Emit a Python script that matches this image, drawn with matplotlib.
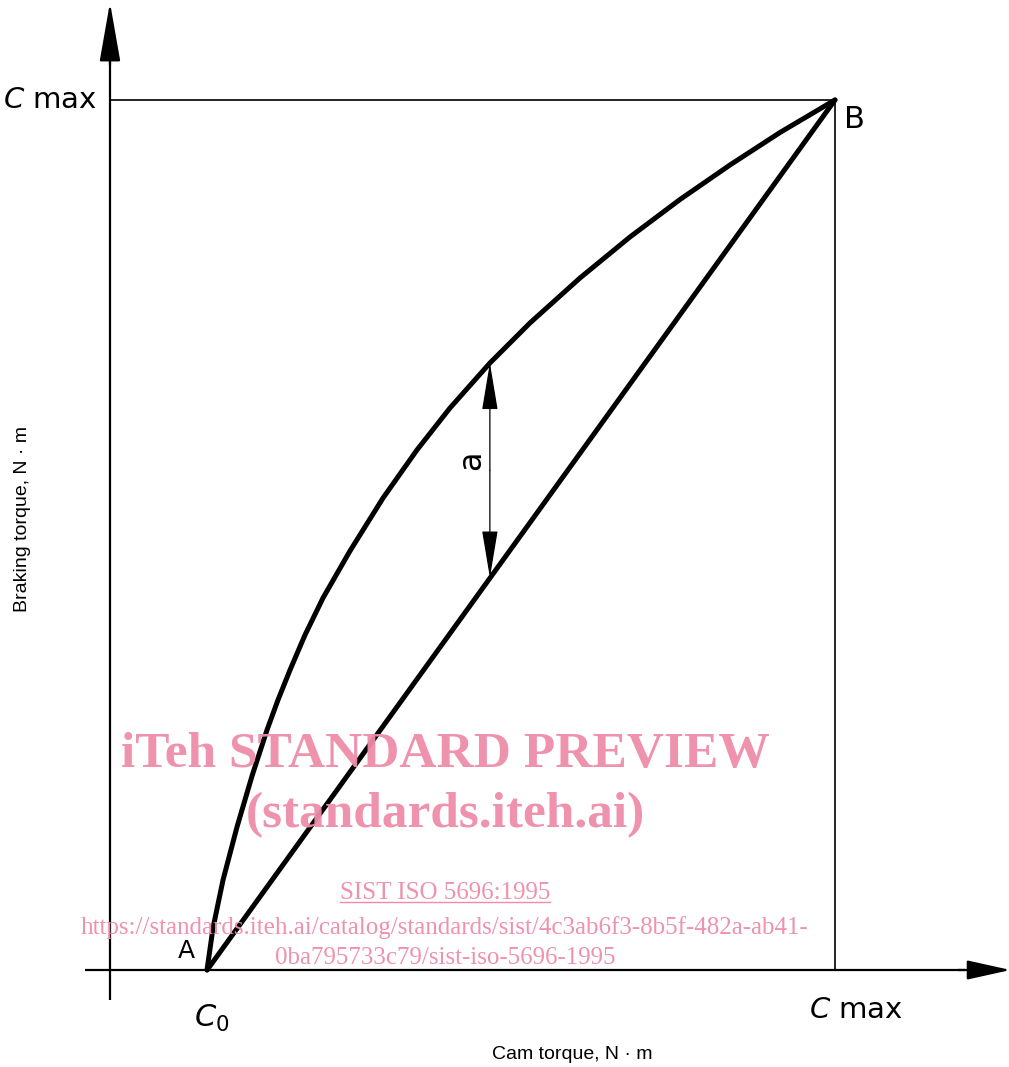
import numpy as np
import matplotlib
matplotlib.use("Agg")
import matplotlib.pyplot as plt
from matplotlib.patches import FancyArrowPatch
from matplotlib.lines import Line2D

# ── Data (torque as fraction of C max) ───────────────────────────────
C0 = 0.134
CMAX = 1.0
# upper curve A -> B (braking torque vs cam torque, rising branch)
curve_x = [0.1338, 0.1421, 0.1559, 0.1752, 0.1959, 0.2166, 0.2317, 0.2483,
           0.2690, 0.2938, 0.3310, 0.3766, 0.4234, 0.4690, 0.5241, 0.5793,
           0.6483, 0.7172, 0.7862, 0.8552, 0.9241, 1.0]
curve_y = [0.0, 0.0483, 0.1034, 0.1644, 0.2230, 0.2759, 0.3103, 0.3448,
           0.3851, 0.4276, 0.4816, 0.5425, 0.5977, 0.6460, 0.6977, 0.7437,
           0.7954, 0.8425, 0.8856, 0.9253, 0.9626, 1.0]
# straight branch A -> B
line_x = [C0, CMAX]
line_y = [0.0, CMAX]
# dimension "a"
a_x = 0.524
a_top = 0.6977
a_bot = 0.451

PINK = "#EE8CAA"

plt.rcParams.update({
    "font.family": ["DejaVu Sans"],
    "mathtext.fontset": "dejavusans",
})

fig = plt.figure(figsize=(10.09, 10.67), dpi=100)
ax = fig.add_axes([0, 0, 1, 1])
ax.set_xlim(-0.1517, 1.24)
ax.set_ylim(-0.1115, 1.1149)
ax.axis("off")

# ── Axes with arrows ─────────────────────────────────────────────────
ax.plot([-0.034, 1.18], [0, 0], color="black", lw=1.6, solid_capstyle="butt")
ax.plot([0, 0], [-0.035, 1.05], color="black", lw=1.6, solid_capstyle="butt")
ax.add_patch(FancyArrowPatch((0, 1.04), (0, 1.112),
                             arrowstyle="-|>,head_length=37,head_width=6.5",
                             mutation_scale=1, color="black", lw=1.6,
                             shrinkA=0, shrinkB=0))
ax.add_patch(FancyArrowPatch((1.17, 0), (1.242, 0),
                             arrowstyle="-|>,head_length=27,head_width=6",
                             mutation_scale=1, color="black", lw=1.6,
                             shrinkA=0, shrinkB=0))

# C max frame
ax.plot([0, CMAX, CMAX], [CMAX, CMAX, 0], color="black", lw=1.2)

# ── Curves ───────────────────────────────────────────────────────────
ax.plot(curve_x, curve_y, color="black", lw=3.6, solid_joinstyle="round",
        solid_capstyle="round")
ax.plot(line_x, line_y, color="black", lw=3.6, solid_capstyle="round")

# dimension arrow a
for y0, y1 in [((a_top + a_bot) / 2, a_top), ((a_top + a_bot) / 2, a_bot)]:
    ax.add_patch(FancyArrowPatch((a_x, y0), (a_x, y1),
                                 arrowstyle="-|>,head_length=30,head_width=5",
                                 mutation_scale=1, color="black", lw=0.9,
                                 shrinkA=0, shrinkB=0))
ax.text(a_x - 0.025, (a_top + a_bot) / 2 + 0.012, "a", rotation=90,
        fontsize=23, ha="center", va="center")

# ── Labels ───────────────────────────────────────────────────────────
ax.text(-0.018, CMAX, r"$C$ max", fontsize=21, ha="right", va="center")
ax.text(1.012, 0.977, "B", fontsize=22, ha="left", va="center")
ax.text(0.117, 0.022, "A", fontsize=18, ha="right", va="center")
ax.text(C0 + 0.006, -0.056, r"$C_0$", fontsize=22, ha="center", va="center")
ax.text(1.029, -0.046, r"$C$ max", fontsize=21, ha="center", va="center")
ax.text(0.637, -0.097, "Cam torque, N \u00b7 m", fontsize=14,
        family="Liberation Sans", ha="center", va="center")
ax.text(-0.121, 0.518, "Braking torque, N \u00b7 m", fontsize=14,
        family="Liberation Sans", ha="center", va="center", rotation=90)

# ── Watermark ────────────────────────────────────────────────────────
wm = dict(color=PINK, family="Liberation Serif", ha="center", va="center",
          zorder=5, alpha=0.95)
fig.text(0.441, 0.292, "iTeh STANDARD PREVIEW", fontsize=37,
         weight="bold", **wm)
fig.text(0.441, 0.236, "(standards.iteh.ai)", fontsize=37, weight="bold", **wm)
sist = fig.text(0.441, 0.163, "SIST ISO 5696:1995", fontsize=18, **wm)
fig.text(0.441, 0.131,
         "https://standards.iteh.ai/catalog/standards/sist/4c3ab6f3-8b5f-482a-ab41-",
         fontsize=18, **wm)
fig.text(0.441, 0.102, "0ba795733c79/sist-iso-5696-1995", fontsize=18, **wm)

fig.canvas.draw()
bb = sist.get_window_extent().transformed(fig.transFigure.inverted())
fig.add_artist(Line2D([bb.x0, bb.x1], [bb.y0 + 0.002, bb.y0 + 0.002],
                      color=PINK, lw=1.0, transform=fig.transFigure))

fig.savefig("out.png", dpi=100)
